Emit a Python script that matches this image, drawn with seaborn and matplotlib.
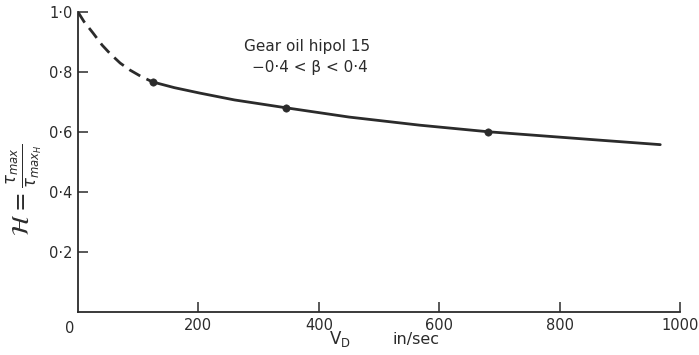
import matplotlib
matplotlib.use("Agg")
import matplotlib.pyplot as plt
import seaborn as sns
import pandas as pd

# Data
dash_x = [0, 10, 25, 40, 53, 70, 86, 105, 124]
dash_y = [1.0, 0.968, 0.93, 0.89, 0.862, 0.83, 0.807, 0.785, 0.767]
solid_x = [124, 160, 202, 260, 345, 450, 567, 681, 780, 866, 967]
solid_y = [0.767, 0.748, 0.73, 0.707, 0.681, 0.650, 0.623, 0.601, 0.586, 0.573, 0.558]
dot_x = [124, 345, 681]
dot_y = [0.767, 0.681, 0.601]
xticks = [200, 400, 600, 800, 1000]
xtick_labels = ["200", "400", "600", "800", "1000"]
yticks = [0.2, 0.4, 0.6, 0.8, 1.0]
ytick_labels = ["0·2", "0·4", "0·6", "0·8", "1·0"]

sns.set_style("white")
plt.rcParams['font.family'] = ['DejaVu Sans']
ink = "#2b2b2b"

fig = plt.figure(figsize=(6.99, 3.55), dpi=100)
ax = fig.add_axes([0.1116, 0.1211, 0.973 - 0.1116, 0.966 - 0.1211])

dash_df = pd.DataFrame({"x": dash_x, "y": dash_y})
solid_df = pd.DataFrame({"x": solid_x, "y": solid_y})
dot_df = pd.DataFrame({"x": dot_x, "y": dot_y})

sns.lineplot(data=dash_df, x="x", y="y", ax=ax, color=ink, lw=2.0,
             linestyle=(0, (4.5, 2.5)), sort=False)
sns.lineplot(data=solid_df, x="x", y="y", ax=ax, color=ink, lw=2.0, sort=False)
sns.scatterplot(data=dot_df, x="x", y="y", ax=ax, color=ink, s=28,
                edgecolor=ink, zorder=5)

ax.set_xlim(0, 1000)
ax.set_ylim(0, 1.0)
ax.set_xticks(xticks)
ax.set_xticklabels(xtick_labels)
ax.set_yticks(yticks)
ax.set_yticklabels(ytick_labels)
ax.tick_params(bottom=True, left=True, direction="in", length=7, width=1.1,
               color=ink, labelcolor=ink, labelsize=10.5)
ax.tick_params(axis="x", pad=4)
ax.tick_params(axis="y", pad=4)
for s in ["top", "right"]:
    ax.spines[s].set_visible(False)
for s in ["left", "bottom"]:
    ax.spines[s].set_color(ink)
    ax.spines[s].set_linewidth(1.3)

ax.annotate("0", xy=(0, 0), xytext=(-6, -12), textcoords="offset points",
            ha="center", va="center", fontsize=10.5, color=ink,
            annotation_clip=False)

ax.set_xlabel("")
ax.set_ylabel("")
fig.text(340 / 699, 1 - 344 / 355, r"$\mathrm{V_D}$", ha="center", va="baseline",
         fontsize=12, color=ink)
fig.text(416 / 699, 1 - 344 / 355, "in/sec", ha="center", va="baseline",
         fontsize=11.5, color=ink)
fig.text(24 / 699, 1 - 190 / 355,
         r"$\mathcal{H}=\frac{\tau_{max}}{\tau_{max_H}}$",
         ha="center", va="center", rotation=90, fontsize=17, color=ink)

ax.text(380, 0.885, "Gear oil hipol 15", ha="center", va="center",
        fontsize=11, color=ink)
ax.text(385, 0.815, "−0·4 < β < 0·4", ha="center", va="center",
        fontsize=11, color=ink)

fig.savefig("out.png", dpi=100)
